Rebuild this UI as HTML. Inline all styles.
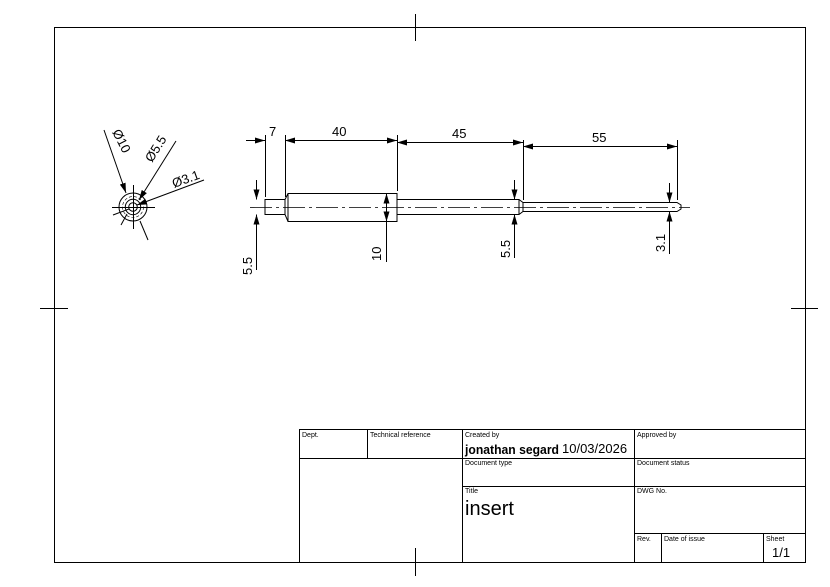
<!DOCTYPE html>
<html><head><meta charset="utf-8"><style>
body{margin:0;background:#fff}
svg{display:block}
text{font-family:"Liberation Sans",sans-serif;fill:#000}
</style></head><body>
<svg width="830" height="587" viewBox="0 0 830 587" xmlns="http://www.w3.org/2000/svg">
<defs>
<marker id="a" viewBox="0 0 10 6" refX="10" refY="3" markerWidth="10" markerHeight="6" orient="auto-start-reverse" markerUnits="userSpaceOnUse"><path d="M0,0L10,3L0,6z" fill="#000"/></marker>
</defs>
<g stroke="#000" fill="none" stroke-width="1">
<rect x="54.5" y="27.5" width="751" height="535"/>
<line x1="415.5" y1="14" x2="415.5" y2="41"/>
<line x1="415.5" y1="548" x2="415.5" y2="576"/>
<line x1="40" y1="308.5" x2="68" y2="308.5"/>
<line x1="791" y1="308.5" x2="818" y2="308.5"/>
<rect x="299.5" y="429.5" width="506" height="133"/>
<line x1="299" y1="458.5" x2="805" y2="458.5"/>
<line x1="462" y1="486.5" x2="805" y2="486.5"/>
<line x1="634" y1="533.5" x2="805" y2="533.5"/>
<line x1="367.5" y1="429" x2="367.5" y2="458"/>
<line x1="462.5" y1="429" x2="462.5" y2="562"/>
<line x1="634.5" y1="429" x2="634.5" y2="562"/>
<line x1="661.5" y1="533" x2="661.5" y2="562"/>
<line x1="763.5" y1="533" x2="763.5" y2="562"/>
<path d="M265,199.5H285V214.5H265z"/>
<path d="M285,199.5L288,193.5H397V221.5H288L285,214.5z"/>
<line x1="288" y1="193.5" x2="288" y2="221.5"/>
<path d="M397,199.5H519L523,202.5H677L681,205V209L677,211.5H523L519,214.5H397"/>
<line x1="519" y1="199.5" x2="519" y2="214.5"/>
<line x1="523" y1="202.5" x2="523" y2="211.5"/>
<line x1="250" y1="207.5" x2="690" y2="207.5" stroke-dasharray="22,4,3,4" stroke-width="0.8"/>
<line x1="265.5" y1="135" x2="265.5" y2="197"/>
<line x1="285.5" y1="135" x2="285.5" y2="197"/>
<line x1="397.5" y1="135" x2="397.5" y2="191"/>
<line x1="523.5" y1="140" x2="523.5" y2="200"/>
<line x1="677.5" y1="140" x2="677.5" y2="200"/>
<line x1="246" y1="140.5" x2="265" y2="140.5" marker-end="url(#a)"/>
<line x1="285" y1="140.5" x2="397" y2="140.5" marker-start="url(#a)" marker-end="url(#a)"/>
<line x1="397" y1="142.5" x2="523" y2="142.5" marker-start="url(#a)" marker-end="url(#a)"/>
<line x1="523" y1="146.5" x2="677" y2="146.5" marker-start="url(#a)" marker-end="url(#a)"/>
<line x1="256.5" y1="180" x2="256.5" y2="199.5" marker-end="url(#a)"/>
<line x1="256.5" y1="214.5" x2="256.5" y2="270" marker-start="url(#a)"/>
<line x1="386.5" y1="193.5" x2="386.5" y2="262" marker-start="url(#a)"/>
<line x1="386.5" y1="205" x2="386.5" y2="221.5" marker-end="url(#a)"/>
<line x1="514.5" y1="180" x2="514.5" y2="199.5" marker-end="url(#a)"/>
<line x1="514.5" y1="214.5" x2="514.5" y2="258" marker-start="url(#a)"/>
<line x1="669.5" y1="183" x2="669.5" y2="202.5" marker-end="url(#a)"/>
<line x1="669.5" y1="211.5" x2="669.5" y2="254" marker-start="url(#a)"/>
<circle cx="133" cy="207" r="14"/>
<circle cx="133" cy="207" r="7.7"/>
<circle cx="133" cy="207" r="4.3"/>
<circle cx="133" cy="207" r="10.5" stroke-dasharray="3,2" stroke-width="0.6"/>
<line x1="112" y1="207.5" x2="155" y2="207.5"/>
<line x1="133.5" y1="185" x2="133.5" y2="229"/>
<line x1="104" y1="130" x2="126" y2="193" marker-end="url(#a)"/>
<line x1="140" y1="221" x2="148" y2="240" />
<line x1="176" y1="141" x2="139" y2="200" marker-end="url(#a)"/>
<line x1="127" y1="214" x2="121" y2="225"/>
<line x1="204" y1="180" x2="137" y2="205" marker-end="url(#a)"/>
<line x1="129" y1="209" x2="113" y2="215"/>
</g>
<g font-size="13">
<text x="269" y="136">7</text>
<text x="332" y="136">40</text>
<text x="452" y="138">45</text>
<text x="592" y="142">55</text>
<text transform="translate(252,275) rotate(-90)">5.5</text>
<text transform="translate(381,261) rotate(-90)">10</text>
<text transform="translate(510,258) rotate(-90)">5.5</text>
<text transform="translate(665,252) rotate(-90)">3.1</text>
<text transform="translate(112,132) rotate(63)">Ø10</text>
<text transform="translate(152,163) rotate(-58)">Ø5.5</text>
<text transform="translate(174,188) rotate(-20)">Ø3.1</text>
</g>
<g font-size="7">
<text x="302" y="437">Dept.</text>
<text x="370" y="437">Technical reference</text>
<text x="465" y="437">Created by</text>
<text x="637" y="437">Approved by</text>
<text x="465" y="465">Document type</text>
<text x="637" y="465">Document status</text>
<text x="465" y="493">Title</text>
<text x="637" y="493">DWG No.</text>
<text x="637" y="541">Rev.</text>
<text x="664" y="541">Date of issue</text>
<text x="766" y="541">Sheet</text>
</g>
<text x="465" y="454" font-size="13" font-weight="bold" textLength="94" lengthAdjust="spacingAndGlyphs">jonathan segard</text>
<text x="562" y="453" font-size="13">10/03/2026</text>
<text x="465" y="515" font-size="20">insert</text>
<text x="772" y="557" font-size="13">1/1</text>
</svg>
</body></html>
